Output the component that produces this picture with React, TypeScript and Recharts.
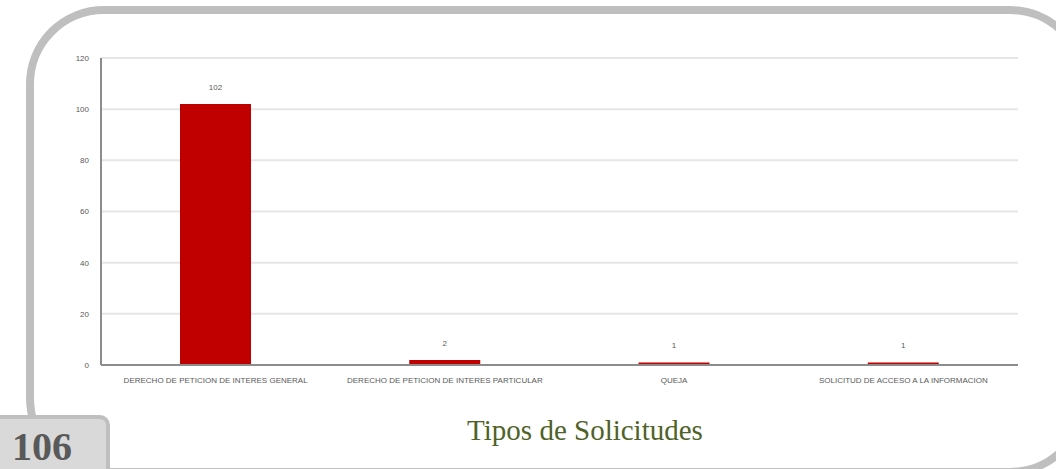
import { Bar, BarChart, CartesianGrid, LabelList, XAxis, YAxis } from "recharts"

const categories = [
  "DERECHO DE PETICION DE INTERES GENERAL",
  "DERECHO DE PETICION DE INTERES PARTICULAR",
  "QUEJA",
  "SOLICITUD DE ACCESO A LA INFORMACION",
]
const counts = [102, 2, 1, 1]
const yTicks = [0, 20, 40, 60, 80, 100, 120]

const data = categories.map((name, i) => ({ name, value: counts[i] }))

const sansNarrow = "'Liberation Sans Narrow', 'Liberation Sans', sans-serif"
const tickFont = { fontSize: 8, fill: "#595959", fontFamily: sansNarrow }

function ValueLabel(props: any) {
  const { x, y, width, value } = props
  return (
    <text x={x + width / 2} y={y - 14} textAnchor="middle" fontSize={8} fill="#595959" fontFamily={sansNarrow}>
      {value}
    </text>
  )
}

export default function App() {
  return (
    <div style={{ position: "absolute", left: 0, top: 0, width: 1056, height: 469, overflow: "hidden", background: "#fff" }}>
      {/* rounded frame */}
      <div
        style={{
          position: "absolute",
          left: 26,
          top: 6,
          width: 1062,
          height: 470,
          boxSizing: "border-box",
          border: "8px solid #bfbfbf",
          borderRadius: 78,
        }}
      />
      <div style={{ position: "absolute", left: 0, top: 0 }}>
        <BarChart width={1056} height={469} data={data} margin={{ top: 58, right: 38, left: 61, bottom: 74 }}>
          <CartesianGrid vertical={false} stroke="#e6e6e6" strokeWidth={2} />
          <XAxis
            dataKey="name"
            tick={tickFont}
            tickLine={false}
            axisLine={{ stroke: "#8c8c8c", strokeWidth: 2 }}
            interval={0}
            height={30}
            tickMargin={6}
          />
          <YAxis
            domain={[0, 120]}
            ticks={yTicks}
            width={40}
            tick={tickFont}
            tickLine={false}
            axisLine={{ stroke: "#8c8c8c", strokeWidth: 2 }}
            tickMargin={6}
          />
          <Bar dataKey="value" fill="#c00000" barSize={71} isAnimationActive={false}>
            <LabelList dataKey="value" content={ValueLabel} />
          </Bar>
        </BarChart>
      </div>
      {/* page number box */}
      <div
        style={{
          position: "absolute",
          left: -4,
          top: 415,
          width: 114,
          height: 60,
          boxSizing: "border-box",
          background: "#d9d9d9",
          border: "4px solid #bfbfbf",
          borderTopRightRadius: 10,
          fontFamily: "'Liberation Serif', serif",
          fontWeight: "bold",
          fontSize: 40,
          color: "#595959",
          paddingLeft: 12,
          lineHeight: "56px",
        }}
      >
        106
      </div>
      <div
        style={{
          position: "absolute",
          left: 0,
          width: 1170,
          top: 414,
          textAlign: "center",
          fontFamily: "'Liberation Serif', 'DejaVu Serif', serif",
          fontSize: 29,
          color: "#4f6228",
        }}
      >
        Tipos de Solicitudes
      </div>
    </div>
  )
}
